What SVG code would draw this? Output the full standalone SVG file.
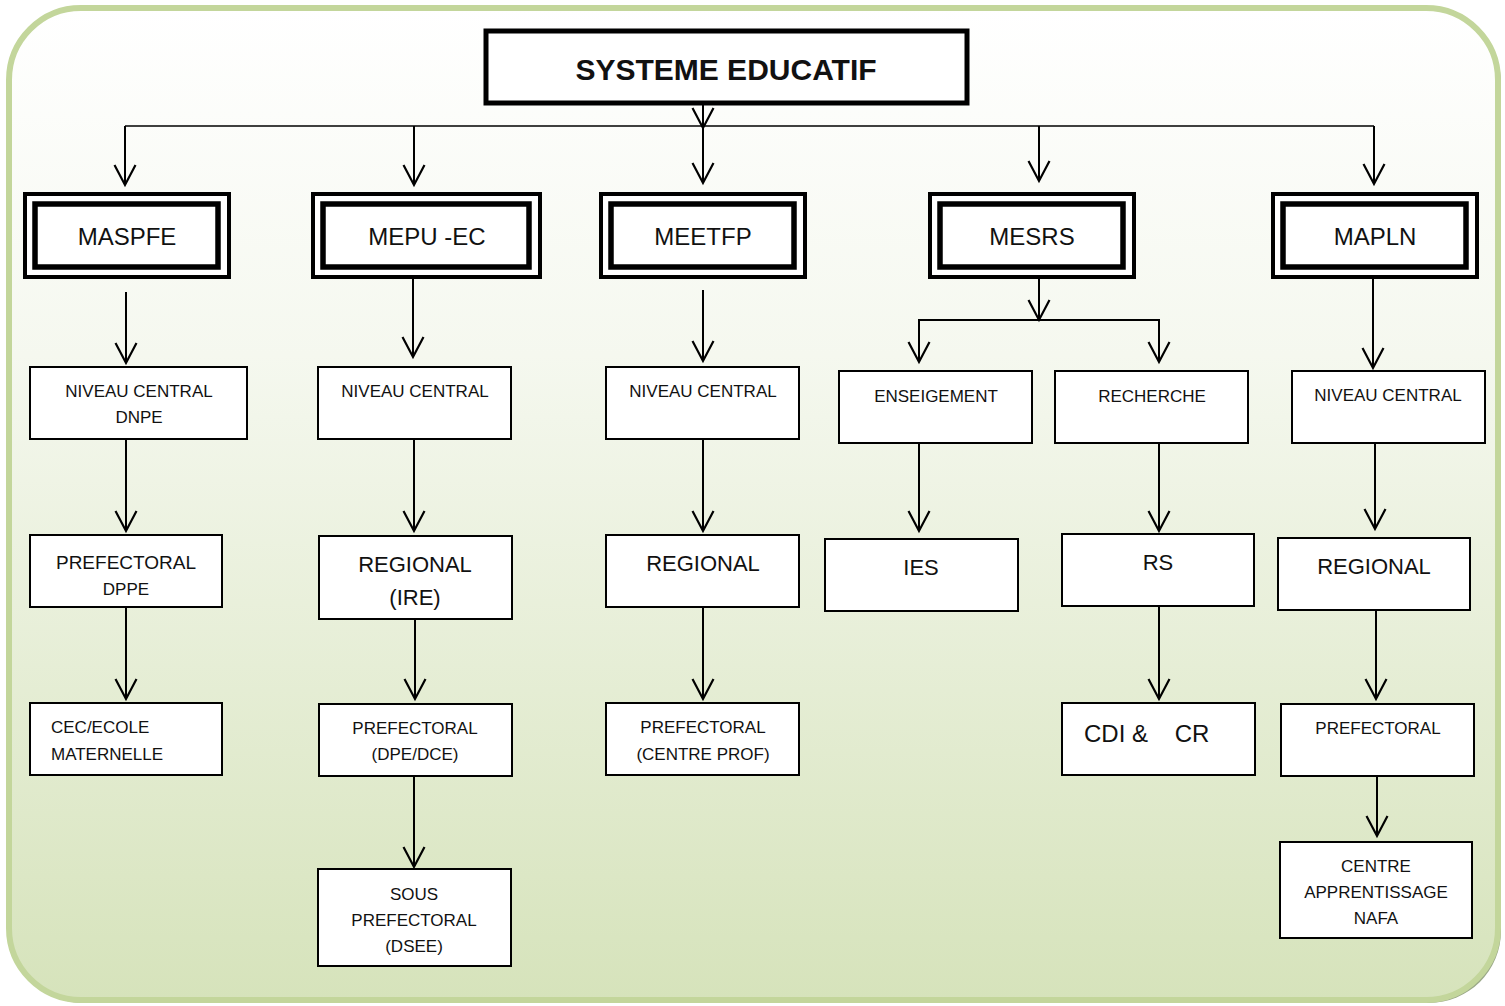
<svg xmlns="http://www.w3.org/2000/svg" width="1505" height="1006" viewBox="0 0 1505 1006">
<defs>
<linearGradient id="bg" x1="0" y1="0" x2="0" y2="1">
<stop offset="0" stop-color="#ffffff"/>
<stop offset="0.35" stop-color="#f5f8ef"/>
<stop offset="1" stop-color="#d6e3bb"/>
</linearGradient>
<marker id="ah" markerUnits="userSpaceOnUse" viewBox="-24 -14 28 28" markerWidth="28" markerHeight="28" refX="0" refY="0" orient="auto">
<path d="M-20,-10.5 L0,0 L-20,10.5" fill="none" stroke="#000" stroke-width="2.2"/>
</marker>
<style>
.box{fill:#fff;stroke:#000;stroke-width:2}
.outer{fill:#fff;stroke:#000;stroke-width:4}
.inner{fill:#fff;stroke:#000;stroke-width:5.5}
.t{font-family:"Liberation Sans",Arial,sans-serif;fill:#111;text-anchor:middle}
.s17{font-size:17px}
.s19{font-size:19px}
.s22{font-size:22px}
.s24{font-size:24px}
.c line,.c path{stroke:#000;stroke-width:2;fill:none}
.c .arr{marker-end:url(#ah)}
</style>
</defs>
<rect x="0" y="0" width="1505" height="1006" fill="#ffffff"/>
<rect x="11" y="11" width="1490" height="992" rx="72" ry="72" fill="#9aa888"/>
<rect x="9" y="8" width="1489" height="992" rx="72" ry="72" fill="url(#bg)" stroke="#c3d69b" stroke-width="6"/>

<g id="connectors" class="c">
<line x1="125" y1="126" x2="1374" y2="126" style="stroke-width:1.6"/>
<line class="arr" x1="703" y1="104" x2="703" y2="128"/>
<line class="arr" x1="703" y1="126" x2="703" y2="183"/>
<line class="arr" x1="125" y1="126" x2="125" y2="185"/>
<line class="arr" x1="414" y1="126" x2="414" y2="185"/>
<line class="arr" x1="1039" y1="126" x2="1039" y2="181"/>
<line class="arr" x1="1374" y1="126" x2="1374" y2="184"/>

<line class="arr" x1="126" y1="292" x2="126" y2="363"/>
<line class="arr" x1="413" y1="278" x2="413" y2="357"/>
<line class="arr" x1="703" y1="290" x2="703" y2="361"/>
<line class="arr" x1="1039" y1="278" x2="1039" y2="320"/>
<path d="M919,362 V320 H1159 V362"/>
<line class="arr" x1="919" y1="330" x2="919" y2="362"/>
<line class="arr" x1="1159" y1="330" x2="1159" y2="362"/>
<line class="arr" x1="1373" y1="278" x2="1373" y2="368"/>

<line class="arr" x1="126" y1="439" x2="126" y2="531"/>
<line class="arr" x1="414" y1="439" x2="414" y2="531"/>
<line class="arr" x1="703" y1="439" x2="703" y2="531"/>
<line class="arr" x1="919" y1="439" x2="919" y2="531"/>
<line class="arr" x1="1159" y1="439" x2="1159" y2="531"/>
<line class="arr" x1="1375" y1="443" x2="1375" y2="529"/>

<line class="arr" x1="126" y1="607" x2="126" y2="699"/>
<line class="arr" x1="415" y1="619" x2="415" y2="699"/>
<line class="arr" x1="703" y1="607" x2="703" y2="699"/>
<line class="arr" x1="1159" y1="606" x2="1159" y2="699"/>
<line class="arr" x1="1376" y1="610" x2="1376" y2="699"/>

<line class="arr" x1="414" y1="776" x2="414" y2="867"/>
<line class="arr" x1="1377" y1="776" x2="1377" y2="836"/>
</g>

<g id="systeme-educatif">
<rect x="486" y="31" width="481" height="72" fill="#fff" stroke="#000" stroke-width="5"/>
<text class="t" x="726" y="80" style="font-size:30px;font-weight:bold">SYSTEME EDUCATIF</text>
</g>

<g id="maspfe">
<rect class="outer" x="25" y="194" width="204" height="83"/>
<rect class="inner" x="35" y="204" width="183" height="63"/>
<text class="t s24" x="127" y="245">MASPFE</text>
</g>
<g id="mepu-ec">
<rect class="outer" x="313" y="194" width="227" height="83"/>
<rect class="inner" x="323" y="204" width="206" height="63"/>
<text class="t s24" x="427" y="245">MEPU -EC</text>
</g>
<g id="meetfp">
<rect class="outer" x="601" y="194" width="204" height="83"/>
<rect class="inner" x="611" y="204" width="183" height="63"/>
<text class="t s24" x="703" y="245">MEETFP</text>
</g>
<g id="mesrs">
<rect class="outer" x="930" y="194" width="204" height="83"/>
<rect class="inner" x="940" y="204" width="183" height="63"/>
<text class="t s24" x="1032" y="245">MESRS</text>
</g>
<g id="mapln">
<rect class="outer" x="1273" y="194" width="204" height="83"/>
<rect class="inner" x="1283" y="204" width="183" height="63"/>
<text class="t s24" x="1375" y="245">MAPLN</text>
</g>

<g id="niveau-central-dnpe">
<rect class="box" x="30" y="367" width="217" height="72"/>
<text class="t s17" x="139" y="397">NIVEAU CENTRAL</text>
<text class="t s17" x="139" y="423">DNPE</text>
</g>
<g id="niveau-central-mepu">
<rect class="box" x="318" y="367" width="193" height="72"/>
<text class="t s17" x="415" y="397">NIVEAU CENTRAL</text>
</g>
<g id="niveau-central-meetfp">
<rect class="box" x="606" y="367" width="193" height="72"/>
<text class="t s17" x="703" y="397">NIVEAU CENTRAL</text>
</g>
<g id="enseigement">
<rect class="box" x="839" y="371" width="193" height="72"/>
<text class="t s17" x="936" y="402">ENSEIGEMENT</text>
</g>
<g id="recherche">
<rect class="box" x="1055" y="371" width="193" height="72"/>
<text class="t s17" x="1152" y="402">RECHERCHE</text>
</g>
<g id="niveau-central-mapln">
<rect class="box" x="1292" y="371" width="193" height="72"/>
<text class="t s17" x="1388" y="401">NIVEAU CENTRAL</text>
</g>

<g id="prefectoral-dppe">
<rect class="box" x="30" y="535" width="192" height="72"/>
<text class="t s19" x="126" y="569">PREFECTORAL</text>
<text class="t s17" x="126" y="595">DPPE</text>
</g>
<g id="regional-ire">
<rect class="box" x="319" y="536" width="193" height="83"/>
<text class="t s22" x="415" y="572">REGIONAL</text>
<text class="t s22" x="415" y="605">(IRE)</text>
</g>
<g id="regional-meetfp">
<rect class="box" x="606" y="535" width="193" height="72"/>
<text class="t s22" x="703" y="571">REGIONAL</text>
</g>
<g id="ies">
<rect class="box" x="825" y="539" width="193" height="72"/>
<text class="t s22" x="921" y="575">IES</text>
</g>
<g id="rs">
<rect class="box" x="1062" y="534" width="192" height="72"/>
<text class="t s22" x="1158" y="570">RS</text>
</g>
<g id="regional-mapln">
<rect class="box" x="1278" y="538" width="192" height="72"/>
<text class="t s22" x="1374" y="574">REGIONAL</text>
</g>

<g id="cec-ecole-maternelle">
<rect class="box" x="30" y="703" width="192" height="72"/>
<text class="t s17" x="51" y="733" style="text-anchor:start">CEC/ECOLE</text>
<text class="t s17" x="51" y="760" style="text-anchor:start">MATERNELLE</text>
</g>
<g id="prefectoral-dpe-dce">
<rect class="box" x="319" y="704" width="193" height="72"/>
<text class="t s17" x="415" y="734">PREFECTORAL</text>
<text class="t s17" x="415" y="760">(DPE/DCE)</text>
</g>
<g id="prefectoral-centre-prof">
<rect class="box" x="606" y="703" width="193" height="72"/>
<text class="t s17" x="703" y="733">PREFECTORAL</text>
<text class="t s17" x="703" y="760">(CENTRE PROF)</text>
</g>
<g id="cdi-cr">
<rect class="box" x="1062" y="703" width="193" height="72"/>
<text class="t s24" x="1084" y="742" style="text-anchor:start;white-space:pre" xml:space="preserve">CDI &amp;    CR</text>
</g>
<g id="prefectoral-mapln">
<rect class="box" x="1281" y="704" width="193" height="72"/>
<text class="t s17" x="1378" y="734">PREFECTORAL</text>
</g>

<g id="sous-prefectoral-dsee">
<rect class="box" x="318" y="869" width="193" height="97"/>
<text class="t s17" x="414" y="900">SOUS</text>
<text class="t s17" x="414" y="926">PREFECTORAL</text>
<text class="t s17" x="414" y="952">(DSEE)</text>
</g>
<g id="centre-apprentissage-nafa">
<rect class="box" x="1280" y="842" width="192" height="96"/>
<text class="t s17" x="1376" y="872">CENTRE</text>
<text class="t s17" x="1376" y="898">APPRENTISSAGE</text>
<text class="t s17" x="1376" y="924">NAFA</text>
</g>
</svg>
